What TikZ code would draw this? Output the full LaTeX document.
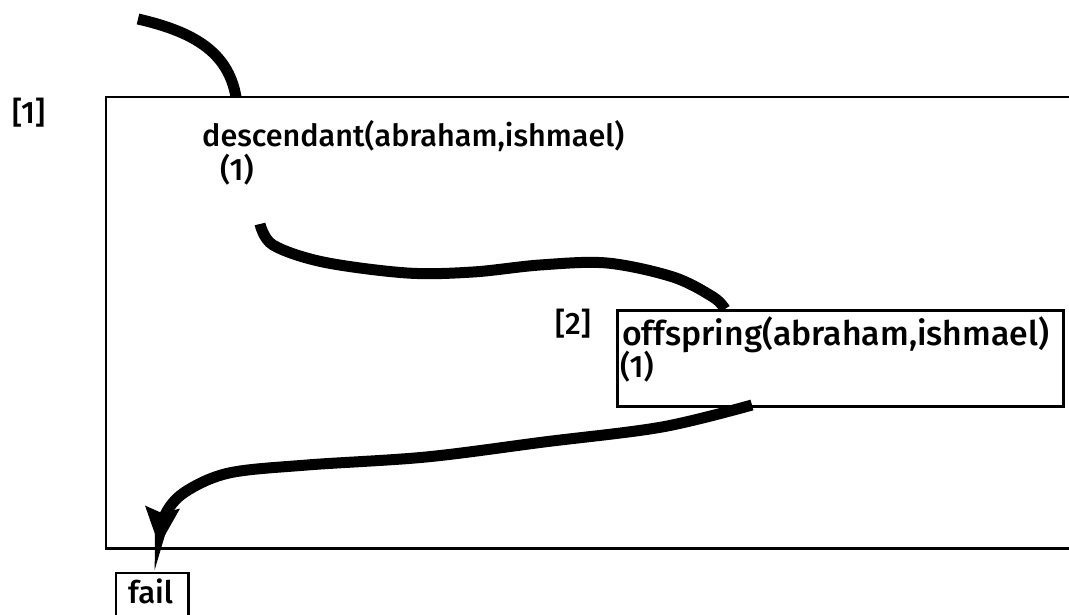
\documentclass[tikz,border=0pt]{standalone}
\usepackage{fontspec}
\setmainfont{Fira Sans}[UprightFont={* Medium}]
\usetikzlibrary{arrows.meta}
\begin{document}
\begin{tikzpicture}[x=1pt,y=-1pt,
  boxline/.style={line width=2.6pt},
  flow/.style={line width=11pt},
  lbl/.style={anchor=base west,inner sep=0pt,font=\fontsize{31}{36}\selectfont}]
\useasboundingbox[fill=white] (0,0) rectangle (1069,615);
% outer box (right side runs off the picture)
\node[minimum width=966pt,minimum height=451pt,inner sep=0pt,anchor=north west] (outer) at (106,97) {};
\draw[boxline] (outer.north east) -- (outer.north west) -- (outer.south west) -- (outer.south east);
% inner box
\node[draw,boxline,minimum width=446pt,minimum height=96pt,inner sep=0pt,anchor=north west] (inner) at (616,309) {};
% fail box (bottom runs off the picture)
\node[minimum width=72pt,minimum height=46pt,inner sep=0pt,anchor=north west] (failbox) at (116,573) {};
\draw[boxline] (failbox.south west) -- (failbox.north west) -- (failbox.north east) -- (failbox.south east);
% texts
\node[lbl] (l1) at (12,124) {[1]};
\node[lbl] (l2) at (555,334) {[2]};
\node[lbl] (t1) at (202,147) {\resizebox{422pt}{!}{descendant(abraham,ishmael)}};
\node[lbl] (t1b) at (220,181) {(1)};
\node[lbl] (t2) at (622,345) {\resizebox{427pt}{!}{offspring(abraham,ishmael)}};
\node[lbl] (t2b) at (620,377) {(1)};
\node[lbl] (tf) at (128,603) {fail};
% connectors
\coordinate (s1) at (138,19);
\coordinate (e1) at (236,97);
\coordinate (s2) at (260,224);
\coordinate (e2) at (725,309);
\coordinate (s3) at (752,405);
\coordinate (e3) at (159,546);
\draw[flow] (s1) .. controls (190,31) and (228,50) .. (e1);
\draw[flow] plot[smooth,tension=0.55] coordinates {(s2) (273,245) (323,262) (407,273) (473,272) (540,265) (607,263) (673,277) (713,297) (e2)};
\draw[flow,-{Stealth[length=38pt,width=33pt,inset=5pt]}] plot[smooth,tension=0.55] coordinates {(s3) (662,427) (544,442) (426,457) (307,465) (229,473) (185,492) (165,515) (e3)};
\end{tikzpicture}
\end{document}
